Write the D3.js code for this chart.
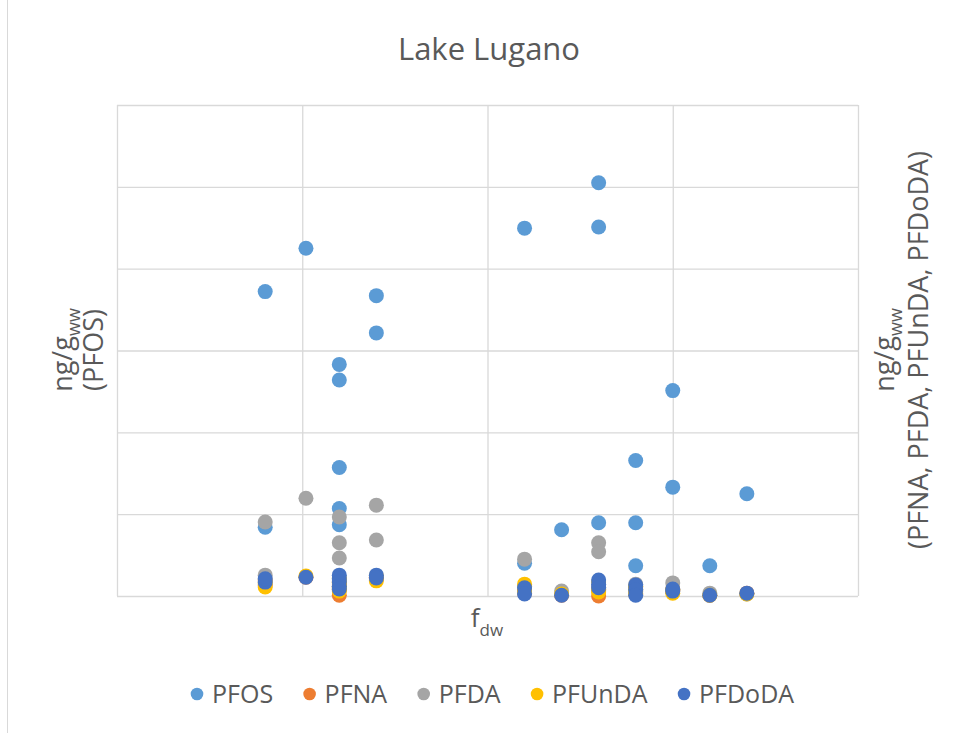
<!DOCTYPE html>
<html>
<head>
<meta charset="utf-8">
<script src="https://cdn.jsdelivr.net/npm/d3@7"></script>
<style>
  body { margin: 0; background: #fff; }
  svg { display: block; font-family: "Open Sans", "Noto Sans", sans-serif; }
</style>
</head>
<body>
<script>
// samples: dry-weight fraction and concentrations
const fdw = [0.08, 0.08, 0.102, 0.12, 0.12, 0.12, 0.12, 0.12, 0.14, 0.14, 0.22, 0.22,
             0.24, 0.26, 0.26, 0.26, 0.28, 0.28, 0.28, 0.30, 0.30, 0.32, 0.34];
// left axis
const pfos = [74.4, 16.8, 85.0, 56.6, 52.8, 31.4, 21.4, 17.4, 73.4, 64.3, 89.9, 8.0,
              16.2, 101.0, 90.2, 17.9, 33.1, 17.9, 7.4, 50.2, 26.6, 7.4, 25.0];
// right axis
const pfna = [0.27, 0.39, 0.46, 0.15, 0.02, 0.27, 0.20, 0.34, 0.46, 0.42, 0.15, 0.07,
              0.02, 0.0, 0.20, 0.15, 0.22, 0.12, 0.05, 0.12, 0.15, 0.02, 0.07];
const pfda = [1.81, 0.51, 2.39, 1.93, 1.30, 0.93, 0.39, 0.24, 2.22, 1.37, 0.90, 0.24,
              0.12, 1.30, 1.08, 0.20, 0.29, 0.17, 0.10, 0.32, 0.15, 0.07, 0.05];
const pfunda = [0.22, 0.32, 0.49, 0.44, 0.32, 0.22, 0.17, 0.12, 0.49, 0.37, 0.29, 0.10,
                0.05, 0.34, 0.15, 0.10, 0.24, 0.15, 0.05, 0.07, 0.15, 0.02, 0.05];
const pfdoda = [0.34, 0.42, 0.46, 0.51, 0.42, 0.34, 0.24, 0.17, 0.51, 0.44, 0.20, 0.05,
                0.02, 0.39, 0.29, 0.20, 0.27, 0.15, 0.02, 0.12, 0.17, 0.02, 0.07];

const seriesNames = ["PFOS", "PFNA", "PFDA", "PFUnDA", "PFDoDA"];
const seriesValues = [pfos, pfna, pfda, pfunda, pfdoda];
const seriesAxis = ["left", "right", "right", "right", "right"];
const colors = ["#5B9BD5", "#ED7D31", "#A5A5A5", "#FFC000", "#4472C4"];

const xTicks = [0, 0.1, 0.2, 0.3, 0.4];
const yLeftTicks = [0, 20, 40, 60, 80, 100, 120];

let width = 958, height = 733;
let plot = { left: 117, right: 858, top: 105, bottom: 596 };

let x = d3.scaleLinear().domain([0, 0.4]).range([plot.left, plot.right]);
let yLeft = d3.scaleLinear().domain([0, 120]).range([plot.bottom, plot.top]);
let yRight = d3.scaleLinear().domain([0, 12]).range([plot.bottom, plot.top]);

let svg = d3.select("body").append("svg")
    .attr("width", width)
    .attr("height", height);

// chart frame edge on the left
svg.append("line")
    .attr("x1", 7.5).attr("x2", 7.5)
    .attr("y1", 0).attr("y2", height)
    .attr("stroke", "#D9D9D9");

// gridlines
let gridY = svg.append("g")
    .attr("transform", `translate(${plot.left},0)`)
    .call(d3.axisLeft(yLeft).tickValues(yLeftTicks)
        .tickSize(-(plot.right - plot.left)).tickFormat(""));
let gridX = svg.append("g")
    .attr("transform", `translate(0,${plot.bottom})`)
    .call(d3.axisBottom(x).tickValues(xTicks)
        .tickSize(-(plot.bottom - plot.top)).tickFormat(""));
svg.selectAll(".domain").remove();
svg.selectAll(".tick line")
    .attr("stroke", "#D9D9D9")
    .attr("stroke-width", 1.3);

// points
seriesNames.forEach((name, s) => {
    let yScale = seriesAxis[s] === "left" ? yLeft : yRight;
    svg.append("g")
        .selectAll("circle")
        .data(seriesValues[s])
        .enter()
            .append("circle")
            .attr("cx", (d, i) => x(fdw[i]))
            .attr("cy", d => yScale(d))
            .attr("r", 7.5)
            .attr("fill", colors[s]);
});

// title
svg.append("text")
    .attr("x", 489).attr("y", 60)
    .attr("text-anchor", "middle")
    .attr("font-size", 31)
    .attr("fill", "#595959")
    .text("Lake Lugano");

// x label
let xl = svg.append("text")
    .attr("x", 487).attr("y", 627)
    .attr("text-anchor", "middle")
    .attr("font-size", 26)
    .attr("fill", "#595959");
xl.append("tspan").text("f");
xl.append("tspan").attr("font-size", 17).attr("dy", 9).text("dw");

// y labels
function yLabel(cx, gap, lines) {
    let t = svg.append("text")
        .attr("transform", `translate(${cx},350) rotate(-90)`)
        .attr("text-anchor", "middle")
        .attr("font-size", 27)
        .attr("fill", "#595959");
    let l1 = t.append("tspan").attr("x", 0).attr("y", 0);
    l1.append("tspan").text("ng/g");
    l1.append("tspan").attr("font-size", 18).attr("dy", 8).text("ww");
    t.append("tspan").attr("x", 0).attr("y", gap).text(lines);
}
yLabel(72, 31, "(PFOS)");
yLabel(894, 34, "(PFNA, PFDA, PFUnDA, PFDoDA)");

// legend
let lx = 197;
seriesNames.forEach((name, s) => {
    svg.append("circle")
        .attr("cx", lx).attr("cy", 694).attr("r", 6.3)
        .attr("fill", colors[s]);
    let t = svg.append("text")
        .attr("x", lx + 15).attr("y", 703)
        .attr("font-size", 25)
        .attr("fill", "#595959")
        .text(name);
    lx += 15 + t.node().getComputedTextLength() + 36.5;
});
</script>
</body>
</html>
